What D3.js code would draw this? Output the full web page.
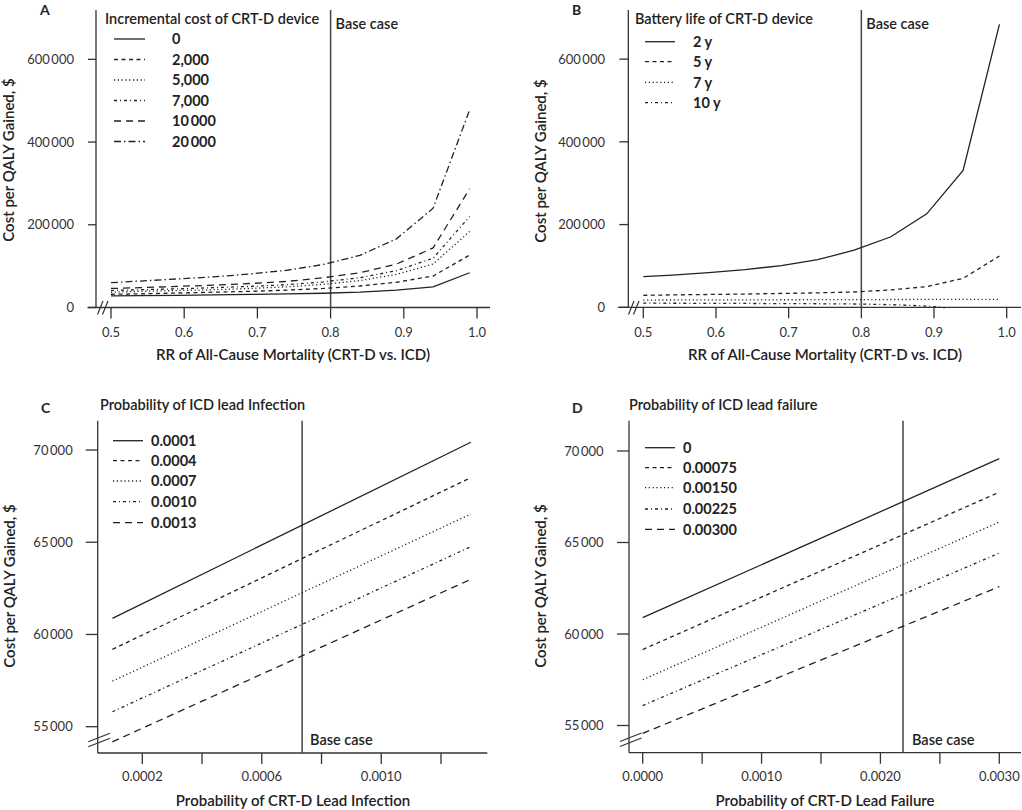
<!DOCTYPE html>
<html>
<head>
<meta charset="utf-8">
<script src="https://cdn.jsdelivr.net/npm/d3@7"></script>
<style>
  html, body { margin: 0; padding: 0; background: #fff; }
  svg { display: block; font-family: Lato, "Open Sans", sans-serif; }
</style>
</head>
<body>
<svg id="chart" width="1022" height="810"></svg>
<script>
// ---------- DATA ----------
// Panel A
const rrA = [0.5, 0.54, 0.59, 0.64, 0.69, 0.74, 0.79, 0.84, 0.89, 0.94, 0.99];
const costLabels = ["0", "2,000", "5,000", "7,000", "10\u2009000", "20\u2009000"];
const cost0     = [28000, 28500, 29500, 30500, 31500, 33000, 34500, 37000, 42000, 50000, 84000];
const cost2000  = [32000, 33000, 35000, 37000, 39000, 42000, 46000, 52000, 61000, 76000, 127000];
const cost5000  = [37000, 39000, 41000, 43000, 46000, 50000, 56000, 65000, 80000, 105000, 184000];
const cost7000  = [41000, 43000, 45000, 48000, 51000, 55000, 62000, 72000, 89000, 119000, 220000];
const cost10000 = [46000, 48000, 51000, 54000, 58000, 63000, 72000, 84000, 105000, 144000, 287000];
const cost20000 = [60000, 64000, 69000, 74000, 81000, 90000, 104000, 126000, 166000, 240000, 478000];

// Panel B
const rrB = [0.5, 0.54, 0.59, 0.64, 0.69, 0.74, 0.79, 0.84, 0.89, 0.94, 0.99];
const rrB10 = [0.5, 0.54, 0.59, 0.64, 0.69, 0.74, 0.79, 0.84, 0.89, 0.915];
const batteryLabels = ["2 y", "5 y", "7 y", "10 y"];
const battery2  = [74000, 78000, 84000, 91000, 101000, 115000, 138000, 170000, 226000, 331000, 684000];
const battery5  = [29000, 30000, 31000, 32000, 33500, 35000, 37000, 42000, 50000, 70000, 124000];
const battery7  = [17500, 17700, 17900, 18000, 18200, 18400, 18600, 18800, 19000, 19000, 19000];
const battery10 = [10000, 9800, 9600, 9300, 9000, 8600, 8000, 6500, 3000, -1000];

// Panel C
const infX = [0.0001, 0.0013];
const infLabels = ["0.0001", "0.0004", "0.0007", "0.0010", "0.0013"];
const inf1 = [60870, 70420];
const inf4 = [59190, 68500];
const inf7 = [57470, 66530];
const inf10 = [55810, 64760];
const inf13 = [54180, 62990];

// Panel D
const failX = [0, 0.003];
const failLabels = ["0", "0.00075", "0.00150", "0.00225", "0.00300"];
const fail0 = [60890, 69580];
const fail75 = [59150, 67750];
const fail150 = [57500, 66120];
const fail225 = [56090, 64420];
const fail300 = [54570, 62590];

// Ticks
const yTicksAB = [0, 200000, 400000, 600000];
const xTicksAB = [0.5, 0.6, 0.7, 0.8, 0.9, 1.0];
const yTicksCD = [55000, 60000, 65000, 70000];
const xTicksC = [0.0002, 0.0004, 0.0006, 0.0008, 0.0010, 0.0012];
const xTickLabelsC = [0.0002, 0.0006, 0.0010];
const xTicksD = [0, 0.0005, 0.0010, 0.0015, 0.0020, 0.0025, 0.0030];
const xTickLabelsD = [0, 0.0010, 0.0020, 0.0030];

const baseA = 0.8, baseB = 0.8, baseC = 0.000735, baseD = 0.00219;

// ---------- STYLE ----------
const DASH = {
  solid: null,
  shortDash: "4,3.5",
  dotted: "1.2,2.6",
  dashDot: "3,3,1,3",
  longDash: "7,5",
  dashDotLong: "7,3,1.5,3"
};
const ink = "#222";
const fmtThin = d => d3.format(",")(d).replace(/,/g, "\u2009");

const svg = d3.select("#chart");

function panel(cfg) {
  const g = svg.append("g");
  const x = d3.scaleLinear().domain(cfg.xDomain).range(cfg.xRange);
  const y = d3.scaleLinear().domain(cfg.yDomain).range(cfg.yRange);
  const ax = cfg.axisX;
  const ay = cfg.axisY;

  g.append("line").attr("x1", ax).attr("x2", ax).attr("y1", cfg.axisTop).attr("y2", ay)
    .attr("stroke", "#333").attr("stroke-width", 1.3);
  g.append("line").attr("x1", cfg.xAxisStart).attr("x2", cfg.xAxisEnd).attr("y1", ay).attr("y2", ay)
    .attr("stroke", "#333").attr("stroke-width", 1.3);

  cfg.yTicks.forEach(t => {
    g.append("line").attr("x1", ax - cfg.yTickLen).attr("x2", ax).attr("y1", y(t)).attr("y2", y(t))
      .attr("stroke", "#333").attr("stroke-width", 1.3);
    g.append("text").attr("x", cfg.yLabelRight).attr("y", y(t)).attr("dy", "0.36em")
      .attr("text-anchor", "end").attr("font-size", 13).attr("fill", "#333")
      .text(fmtThin(t));
  });
  cfg.xTicks.forEach(t => {
    g.append("line").attr("x1", x(t)).attr("x2", x(t)).attr("y1", ay).attr("y2", ay + 11)
      .attr("stroke", "#333").attr("stroke-width", 1.3);
  });
  cfg.xTickLabels.forEach(t => {
    g.append("text").attr("x", x(t)).attr("y", cfg.xLabelY)
      .attr("text-anchor", "middle").attr("font-size", 13).attr("fill", "#333")
      .text(cfg.xFmt(t));
  });

  cfg.breaks.forEach(b => {
    g.append("line").attr("x1", b[0]).attr("y1", b[1]).attr("x2", b[2]).attr("y2", b[3])
      .attr("stroke", "#333").attr("stroke-width", 1.2);
  });

  g.append("line").attr("x1", x(cfg.base)).attr("x2", x(cfg.base))
    .attr("y1", cfg.axisTop).attr("y2", ay)
    .attr("stroke", "#444").attr("stroke-width", 1.5);
  g.append("text").attr("x", x(cfg.base) + cfg.baseDx).attr("y", cfg.baseLabelY)
    .attr("font-size", 14.5).attr("font-weight", 600).attr("fill", ink).text("Base case");

  const line = d3.line().x(d => x(d[0])).y(d => y(d[1]));
  cfg.series.forEach(s => {
    const pts = s.xs.map((v, i) => [v, s.ys[i]]);
    g.append("path").datum(pts).attr("d", line)
      .attr("fill", "none").attr("stroke", ink).attr("stroke-width", 1.3)
      .attr("stroke-dasharray", DASH[s.dash]);
  });

  g.append("text").attr("x", cfg.legTitleX).attr("y", cfg.legTitleY)
    .attr("font-size", 14.5).attr("font-weight", 600).attr("fill", ink).text(cfg.legTitle);
  cfg.series.forEach((s, i) => {
    const ry = cfg.legRows[i];
    g.append("line").attr("x1", cfg.legSample[0]).attr("x2", cfg.legSample[1])
      .attr("y1", ry).attr("y2", ry).attr("stroke", ink).attr("stroke-width", 1.3)
      .attr("stroke-dasharray", DASH[s.dash]);
    g.append("text").attr("x", cfg.legLabelX).attr("y", ry).attr("dy", "0.36em")
      .attr("font-size", 14.5).attr("font-weight", 700).attr("fill", ink).text(s.label);
  });

  g.append("text").attr("x", cfg.letterX).attr("y", cfg.letterY)
    .attr("font-size", 14).attr("font-weight", 700).attr("fill", ink).text(cfg.letter);

  g.append("text").attr("x", cfg.xTitleX).attr("y", cfg.xTitleY).attr("text-anchor", "middle")
    .attr("font-size", 15).attr("font-weight", 600).attr("fill", ink).text(cfg.xTitle);
  g.append("text").attr("transform", `translate(${cfg.yTitleX},${cfg.yTitleY}) rotate(-90)`)
    .attr("text-anchor", "middle")
    .attr("font-size", 15).attr("font-weight", 600).attr("fill", ink).text("Cost per QALY Gained, $");
}

const xTitleAB = "RR of All-Cause Mortality (CRT-D vs. ICD)";
const fmtRR = d => d3.format(".1f")(d);

panel({
  letter: "A", letterX: 40, letterY: 15,
  xDomain: [0.5, 1.0], xRange: [111, 477],
  yDomain: [0, 720000], yRange: [307.5, 9.7],
  axisX: 96, axisY: 307.5, axisTop: 10, xAxisStart: 87.5, xAxisEnd: 490,
  yTicks: yTicksAB, yTickLen: 8, yLabelRight: 74,
  xTicks: xTicksAB, xTickLabels: xTicksAB, xLabelY: 337, xFmt: fmtRR,
  breaks: [[97.5, 314.5, 103, 301], [102.5, 314.5, 108, 301]],
  base: baseA, baseDx: 5, baseLabelY: 29,
  series: [
    { xs: rrA, ys: cost0, dash: "solid", label: costLabels[0] },
    { xs: rrA, ys: cost2000, dash: "shortDash", label: costLabels[1] },
    { xs: rrA, ys: cost5000, dash: "dotted", label: costLabels[2] },
    { xs: rrA, ys: cost7000, dash: "dashDot", label: costLabels[3] },
    { xs: rrA, ys: cost10000, dash: "longDash", label: costLabels[4] },
    { xs: rrA, ys: cost20000, dash: "dashDotLong", label: costLabels[5] }
  ],
  legTitle: "Incremental cost of CRT-D device", legTitleX: 105, legTitleY: 24,
  legRows: [39, 59.5, 80, 100.5, 121, 141.5], legSample: [114, 145], legLabelX: 172,
  xTitle: xTitleAB, xTitleX: 293, xTitleY: 360,
  yTitleX: 14, yTitleY: 160
});

panel({
  letter: "B", letterX: 572, letterY: 15,
  xDomain: [0.5, 1.0], xRange: [643.3, 1006.7],
  yDomain: [0, 720000], yRange: [307.3, 9.5],
  axisX: 628.3, axisY: 307.3, axisTop: 10, xAxisStart: 618, xAxisEnd: 1021,
  yTicks: yTicksAB, yTickLen: 9, yLabelRight: 605,
  xTicks: xTicksAB, xTickLabels: xTicksAB, xLabelY: 337, xFmt: fmtRR,
  breaks: [[628.5, 314.5, 634, 301], [633.5, 314.5, 639, 301]],
  base: baseB, baseDx: 5, baseLabelY: 29,
  series: [
    { xs: rrB, ys: battery2, dash: "solid", label: batteryLabels[0] },
    { xs: rrB, ys: battery5, dash: "shortDash", label: batteryLabels[1] },
    { xs: rrB, ys: battery7, dash: "dotted", label: batteryLabels[2] },
    { xs: rrB10, ys: battery10, dash: "dashDot", label: batteryLabels[3] }
  ],
  legTitle: "Battery life of CRT-D device", legTitleX: 635, legTitleY: 24,
  legRows: [41.7, 61.7, 82.3, 102.7], legSample: [645, 675], legLabelX: 693,
  xTitle: xTitleAB, xTitleX: 825, xTitleY: 360,
  yTitleX: 546, yTitleY: 161
});

panel({
  letter: "C", letterX: 41, letterY: 412.5,
  xDomain: [0.0002, 0.0012], xRange: [142.3, 441],
  yDomain: [55000, 70000], yRange: [726.7, 450],
  axisX: 97.7, axisY: 753, axisTop: 420.7, xAxisStart: 97.7, xAxisEnd: 487.3,
  yTicks: yTicksCD, yTickLen: 12, yLabelRight: 72.7,
  xTicks: xTicksC, xTickLabels: xTickLabelsC, xLabelY: 781, xFmt: d => d3.format(".4f")(d),
  breaks: [[88.3, 741.7, 110, 733.3], [88.3, 746.7, 110, 738.3]],
  base: baseC, baseDx: 8, baseLabelY: 745,
  series: [
    { xs: infX, ys: inf1, dash: "solid", label: infLabels[0] },
    { xs: infX, ys: inf4, dash: "shortDash", label: infLabels[1] },
    { xs: infX, ys: inf7, dash: "dotted", label: infLabels[2] },
    { xs: infX, ys: inf10, dash: "dashDot", label: infLabels[3] },
    { xs: infX, ys: inf13, dash: "longDash", label: infLabels[4] }
  ],
  legTitle: "Probability of ICD lead Infection", legTitleX: 100, legTitleY: 410,
  legRows: [440.7, 460.7, 481, 501.7, 522.7], legSample: [113, 143], legLabelX: 151,
  xTitle: "Probability of CRT-D Lead Infection", xTitleX: 293, xTitleY: 806,
  yTitleX: 15, yTitleY: 586
});

panel({
  letter: "D", letterX: 572, letterY: 412.5,
  xDomain: [0, 0.003], xRange: [642.7, 999.3],
  yDomain: [55000, 70000], yRange: [725.5, 451],
  axisX: 629, axisY: 752.7, axisTop: 420.7, xAxisStart: 629, xAxisEnd: 1021,
  yTicks: yTicksCD, yTickLen: 12, yLabelRight: 603.5,
  xTicks: xTicksD, xTickLabels: xTickLabelsD, xLabelY: 781, xFmt: d => d3.format(".4f")(d),
  breaks: [[620, 741.5, 641.5, 733], [620, 746.5, 641.5, 738]],
  base: baseD, baseDx: 9, baseLabelY: 745,
  series: [
    { xs: failX, ys: fail0, dash: "solid", label: failLabels[0] },
    { xs: failX, ys: fail75, dash: "shortDash", label: failLabels[1] },
    { xs: failX, ys: fail150, dash: "dotted", label: failLabels[2] },
    { xs: failX, ys: fail225, dash: "dashDot", label: failLabels[3] },
    { xs: failX, ys: fail300, dash: "longDash", label: failLabels[4] }
  ],
  legTitle: "Probability of ICD lead failure", legTitleX: 629, legTitleY: 410,
  legRows: [447.7, 467.7, 487.7, 509, 529.3], legSample: [645, 675], legLabelX: 683,
  xTitle: "Probability of CRT-D Lead Failure", xTitleX: 825, xTitleY: 806,
  yTitleX: 546, yTitleY: 586
});
</script>
</body>
</html>
